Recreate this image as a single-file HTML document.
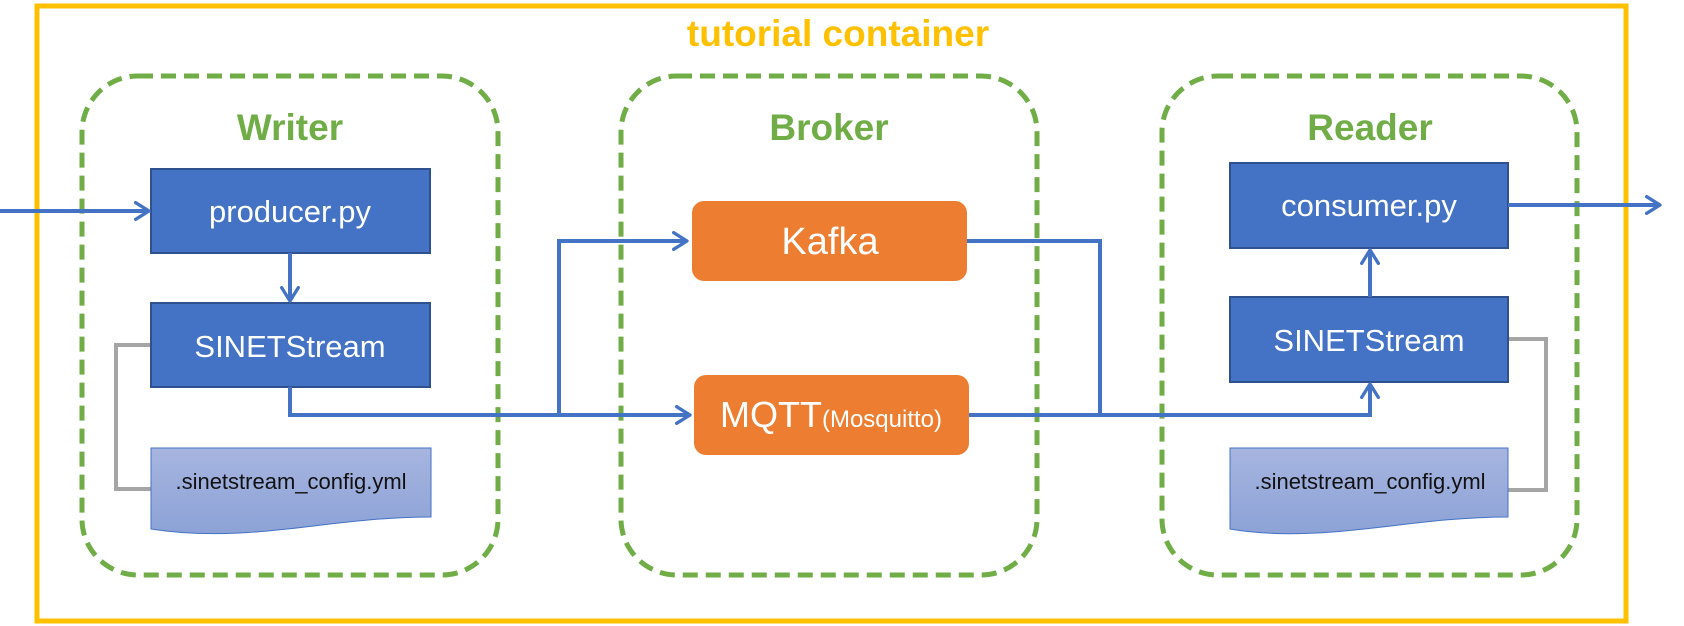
<!DOCTYPE html>
<html><head><meta charset="utf-8"><style>
html,body{margin:0;padding:0;background:#fff;}
svg{display:block;}
</style></head><body>
<svg width="1684" height="626" viewBox="0 0 1684 626" xmlns="http://www.w3.org/2000/svg" font-family="Liberation Sans, sans-serif">
<defs>
<linearGradient id="dg" x1="0" y1="0" x2="0" y2="1"><stop offset="0" stop-color="#A7B5E0"/><stop offset="1" stop-color="#8CA2D6"/></linearGradient>
<marker id="ah" viewBox="0 0 12 12" refX="10" refY="6" markerWidth="5" markerHeight="5" orient="auto" markerUnits="strokeWidth">
<path d="M2,1 L10,6 L2,11" fill="none" stroke="#4472C4" stroke-width="2" stroke-linecap="round" stroke-linejoin="round"/></marker>
</defs>
<rect x="37" y="6" width="1589" height="615" fill="none" stroke="#FFC000" stroke-width="5"/>
<text x="838" y="46" text-anchor="middle" font-size="37" font-weight="bold" fill="#FFC000">tutorial container</text>

<g fill="none" stroke="#70AD47" stroke-width="5" stroke-dasharray="15,8">
<rect x="82" y="76" width="416" height="499" rx="56"/>
<rect x="621" y="76" width="416" height="499" rx="56"/>
<rect x="1162" y="76" width="415" height="499" rx="56"/>
</g>
<g font-size="37" font-weight="bold" fill="#70AD47" text-anchor="middle">
<text x="290" y="140">Writer</text>
<text x="829" y="140">Broker</text>
<text x="1370" y="140">Reader</text>
</g>

<polyline points="151,345 116,345 116,489 151,489" fill="none" stroke="#A5A5A5" stroke-width="4"/>
<polyline points="1508,339 1546,339 1546,490 1508,490" fill="none" stroke="#A5A5A5" stroke-width="4"/>

<g fill="#4472C4" stroke="#2F528F" stroke-width="2">
<rect x="151" y="169" width="279" height="84"/>
<rect x="151" y="303" width="279" height="84"/>
<rect x="1230" y="163" width="278" height="85"/>
<rect x="1230" y="297" width="278" height="85"/>
</g>
<g fill="#fff" font-size="31" text-anchor="middle">
<text x="290" y="222">producer.py</text>
<text x="290" y="357">SINETStream</text>
<text x="1369" y="216">consumer.py</text>
<text x="1369" y="351">SINETStream</text>
</g>

<path d="M151,448 H431 V517 C360,517 300,530 240,533 C200,535 170,532 151,529 Z" fill="url(#dg)" stroke="#4472C4" stroke-width="1"/>
<path d="M1230,448 H1508 V517 C1437,517 1377,530 1317,533 C1277,535 1247,532 1230,529 Z" fill="url(#dg)" stroke="#4472C4" stroke-width="1"/>
<g font-size="22" fill="#111" text-anchor="middle">
<text x="291" y="489">.sinetstream_config.yml</text>
<text x="1370" y="489">.sinetstream_config.yml</text>
</g>

<rect x="692" y="201" width="275" height="80" rx="12" fill="#ED7D31"/>
<rect x="694" y="375" width="275" height="80" rx="12" fill="#ED7D31"/>
<text x="830" y="254" text-anchor="middle" font-size="38" fill="#fff">Kafka</text>
<text x="831" y="427" text-anchor="middle" fill="#fff"><tspan font-size="36">MQTT</tspan><tspan font-size="24">(Mosquitto)</tspan></text>

<g fill="none" stroke="#4472C4" stroke-width="4">
<line x1="0" y1="211" x2="149" y2="211" marker-end="url(#ah)"/>
<line x1="290" y1="253" x2="290" y2="301" marker-end="url(#ah)"/>
<polyline points="290,387 290,415 690,415" marker-end="url(#ah)"/>
<polyline points="559,415 559,241 687,241" marker-end="url(#ah)"/>
<polyline points="967,241 1100,241 1100,413"/>
<polyline points="969,415 1370,415 1370,384" marker-end="url(#ah)"/>
<line x1="1370" y1="297" x2="1370" y2="250" marker-end="url(#ah)"/>
<line x1="1508" y1="205" x2="1660" y2="205" marker-end="url(#ah)"/>
</g>
</svg>
</body></html>
